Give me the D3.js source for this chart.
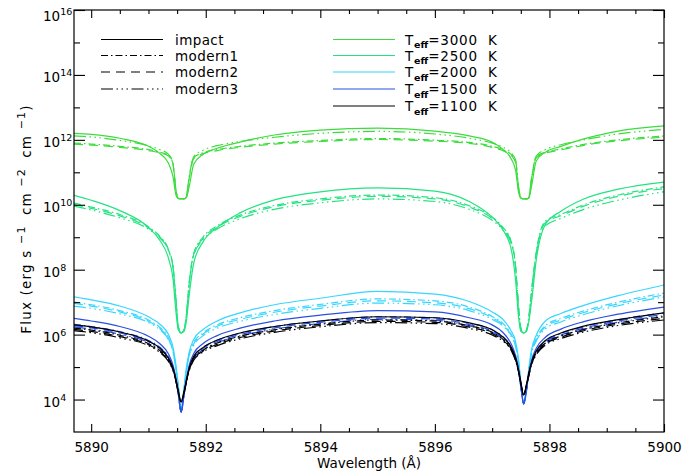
<!DOCTYPE html>
<html><head><meta charset="utf-8">
<script src="https://cdn.jsdelivr.net/npm/d3@7"></script>
<style>body{margin:0;background:#fff} text{font-family:"DejaVu Sans",sans-serif;fill:#000}</style>
</head><body><svg id="c" width="682" height="473"></svg>
<script>
// wavelength grid (Å)
const wavelength = [5889.70,5890.00,5890.50,5891.00,5891.20,5891.35,5891.43,5891.48,5891.52,5891.57,5891.62,5891.66,5891.71,5891.79,5891.95,5892.20,5892.60,5893.20,5894.00,5895.00,5896.00,5896.60,5897.00,5897.18,5897.33,5897.41,5897.46,5897.50,5897.55,5897.60,5897.64,5897.69,5897.77,5897.93,5898.20,5898.60,5899.20,5900.00];

// log10 flux values
const t3000_impact  = [12.20,12.17,12.05,11.80,11.58,11.28,10.85,10.30,10.19,10.18,10.18,10.22,10.55,11.25,11.55,11.74,11.93,12.15,12.30,12.36,12.27,12.12,11.93,11.72,11.42,11.05,10.40,10.20,10.18,10.18,10.20,10.60,11.35,11.62,11.80,12.03,12.27,12.43];
const t3000_modern1 = [11.90,11.87,11.80,11.70,11.62,11.52,11.25,10.45,10.20,10.18,10.18,10.24,10.85,11.45,11.60,11.70,11.80,11.90,11.98,12.04,11.99,11.92,11.80,11.70,11.55,11.35,10.55,10.22,10.18,10.18,10.22,10.85,11.48,11.62,11.72,11.86,12.00,12.12];
const t3000_modern2 = [11.87,11.84,11.77,11.67,11.60,11.50,11.22,10.42,10.20,10.18,10.18,10.24,10.80,11.42,11.57,11.67,11.77,11.87,11.95,12.01,11.96,11.89,11.77,11.67,11.52,11.30,10.50,10.22,10.18,10.18,10.22,10.80,11.45,11.59,11.69,11.83,11.97,12.08];
const t3000_modern3 = [12.12,12.09,11.98,11.82,11.70,11.55,11.28,10.45,10.20,10.18,10.18,10.24,10.85,11.48,11.68,11.82,11.95,12.08,12.20,12.26,12.18,12.05,11.90,11.78,11.60,11.38,10.55,10.22,10.18,10.18,10.22,10.85,11.50,11.70,11.85,12.00,12.18,12.32];

const t2500_impact  = [10.29,10.14,9.82,9.30,8.90,8.35,7.70,6.70,6.15,6.05,6.10,6.40,7.20,8.20,8.85,9.30,9.75,10.15,10.40,10.52,10.42,10.10,9.62,9.25,8.65,7.65,6.55,6.10,6.05,6.10,6.40,7.05,8.30,9.40,9.80,10.18,10.48,10.70];
const t2500_modern1 = [10.05,9.93,9.70,9.32,9.02,8.62,8.10,7.10,6.25,6.05,6.15,6.60,7.60,8.50,9.00,9.35,9.68,9.98,10.18,10.30,10.22,9.97,9.62,9.32,8.88,8.10,6.90,6.20,6.05,6.15,6.55,7.40,8.55,9.50,9.70,10.00,10.30,10.55];
const t2500_modern2 = [10.01,9.89,9.66,9.29,9.00,8.60,8.05,7.05,6.25,6.05,6.15,6.55,7.55,8.47,8.96,9.31,9.64,9.94,10.14,10.26,10.18,9.93,9.58,9.29,8.85,8.05,6.85,6.20,6.05,6.15,6.50,7.35,8.50,9.45,9.66,9.96,10.26,10.50];
const t2500_modern3 = [9.96,9.84,9.60,9.25,8.97,8.58,8.05,7.05,6.25,6.05,6.15,6.55,7.55,8.45,8.92,9.25,9.57,9.86,10.06,10.18,10.10,9.86,9.52,9.24,8.82,8.05,6.85,6.20,6.05,6.15,6.50,7.35,8.48,9.35,9.58,9.86,10.14,10.40];

const t2000_impact  = [7.16,7.07,6.88,6.55,6.32,6.00,5.60,5.05,4.45,3.70,4.35,4.95,5.45,5.85,6.15,6.42,6.67,6.92,7.12,7.33,7.25,7.02,6.70,6.48,6.12,5.78,5.25,4.55,3.90,4.30,4.95,5.55,5.98,6.42,6.65,6.90,7.20,7.53];
const t2000_modern1 = [7.00,6.92,6.74,6.45,6.22,5.90,5.50,4.98,4.40,3.70,4.30,4.90,5.38,5.75,6.05,6.30,6.52,6.74,6.93,7.10,7.04,6.85,6.56,6.36,6.02,5.70,5.18,4.50,3.90,4.25,4.90,5.48,5.88,6.28,6.50,6.73,7.00,7.28];
const t2000_modern2 = [6.96,6.88,6.70,6.41,6.18,5.86,5.47,4.95,4.40,3.70,4.30,4.88,5.35,5.71,6.01,6.26,6.47,6.69,6.88,7.04,6.98,6.80,6.52,6.32,5.98,5.66,5.15,4.50,3.90,4.25,4.88,5.45,5.84,6.24,6.45,6.68,6.95,7.22];
const t2000_modern3 = [6.88,6.81,6.64,6.37,6.15,5.84,5.45,4.93,4.40,3.70,4.30,4.86,5.32,5.67,5.96,6.20,6.41,6.62,6.81,6.97,6.92,6.74,6.47,6.28,5.95,5.63,5.12,4.50,3.90,4.25,4.86,5.42,5.80,6.18,6.39,6.62,6.89,7.16];

const t1500_impact  = [6.50,6.42,6.25,5.95,5.72,5.40,5.05,4.65,4.20,3.60,4.15,4.60,5.05,5.42,5.72,5.97,6.20,6.42,6.60,6.74,6.70,6.52,6.30,6.08,5.72,5.35,4.95,4.45,3.85,4.35,4.80,5.22,5.58,5.92,6.17,6.40,6.63,6.85];
const t1500_modern1 = [6.32,6.25,6.09,5.82,5.61,5.31,4.98,4.60,4.18,3.62,4.13,4.56,4.98,5.33,5.60,5.83,6.04,6.25,6.42,6.55,6.52,6.35,6.15,5.95,5.62,5.28,4.90,4.42,3.87,4.33,4.75,5.15,5.48,5.80,6.03,6.24,6.46,6.67];
const t1500_modern2 = [6.28,6.21,6.05,5.79,5.58,5.29,4.96,4.58,4.17,3.62,4.12,4.55,4.96,5.30,5.57,5.79,6.00,6.21,6.38,6.51,6.48,6.31,6.11,5.92,5.60,5.26,4.88,4.41,3.87,4.32,4.73,5.13,5.45,5.77,5.99,6.20,6.42,6.62];
const t1500_modern3 = [6.24,6.17,6.01,5.76,5.55,5.27,4.94,4.57,4.16,3.62,4.11,4.54,4.94,5.27,5.53,5.75,5.96,6.17,6.34,6.47,6.44,6.27,6.07,5.89,5.58,5.24,4.86,4.40,3.87,4.31,4.72,5.11,5.42,5.73,5.95,6.16,6.38,6.58];

const t1100_impact  = [6.30,6.24,6.08,5.80,5.58,5.27,4.97,4.62,4.28,3.93,4.25,4.58,4.97,5.33,5.60,5.83,6.05,6.25,6.42,6.55,6.52,6.36,6.15,5.94,5.62,5.28,4.92,4.55,4.14,4.48,4.82,5.17,5.50,5.82,6.05,6.26,6.46,6.67];
const t1100_modern1 = [6.20,6.14,5.98,5.72,5.51,5.21,4.92,4.58,4.25,3.93,4.22,4.54,4.92,5.27,5.52,5.74,5.95,6.15,6.32,6.45,6.42,6.27,6.07,5.87,5.56,5.23,4.88,4.52,4.14,4.45,4.78,5.12,5.44,5.74,5.96,6.16,6.36,6.55];
const t1100_modern2 = [6.16,6.10,5.94,5.69,5.48,5.19,4.90,4.57,4.24,3.93,4.21,4.53,4.90,5.24,5.49,5.70,5.91,6.11,6.28,6.41,6.38,6.23,6.03,5.84,5.54,5.21,4.86,4.51,4.14,4.44,4.76,5.10,5.41,5.71,5.92,6.12,6.32,6.50];
const t1100_modern3 = [6.12,6.06,5.90,5.66,5.45,5.17,4.88,4.56,4.23,3.93,4.20,4.52,4.88,5.21,5.46,5.66,5.87,6.07,6.24,6.37,6.34,6.19,5.99,5.81,5.52,5.19,4.84,4.50,4.14,4.43,4.74,5.08,5.38,5.68,5.88,6.08,6.28,6.45];

const temperatures = ["3000","2500","2000","1500","1100"];
const tempColors = ["#3ddc3d","#22e37f","#36d6ff","#2b4fe0","#000000"];
const models = ["impact","modern1","modern2","modern3"];
const modelDash = [null,"7,3,1.5,3","9,6","12,3.5,1.5,3.5,1.5,3.5,1.5,3.5"];
const xMajorTicks = [5890,5892,5894,5896,5898,5900];
const xMinorTicks = [5890.5,5891,5891.5,5892.5,5893,5893.5,5894.5,5895,5895.5,5896.5,5897,5897.5,5898.5,5899,5899.5];
const yMajorExp = [4,6,8,10,12,14,16];
const yMinorExp = [5,7,9,11,13,15];

const seriesData = {
  "3000":[t3000_impact,t3000_modern1,t3000_modern2,t3000_modern3],
  "2500":[t2500_impact,t2500_modern1,t2500_modern2,t2500_modern3],
  "2000":[t2000_impact,t2000_modern1,t2000_modern2,t2000_modern3],
  "1500":[t1500_impact,t1500_modern1,t1500_modern2,t1500_modern3],
  "1100":[t1100_impact,t1100_modern1,t1100_modern2,t1100_modern3]
};

const L=74,R=664,T=10,B=432;
const svg=d3.select("#c");
const x=d3.scaleLinear().domain([5889.7,5900]).range([L,R]);
const y=d3.scaleLog().domain([1e3,1e16]).range([B,T]);

const clip=svg.append("defs").append("clipPath").attr("id","pc");
clip.append("rect").attr("x",L).attr("y",T).attr("width",R-L).attr("height",B-T);

const line=d3.line().x((d,i)=>x(wavelength[i])).y(d=>y(Math.pow(10,d))).curve(d3.curveMonotoneX);
const plot=svg.append("g").attr("clip-path","url(#pc)");
temperatures.forEach((t,ti)=>{
  seriesData[t].forEach((arr,mi)=>{
    plot.append("path").attr("d",line(arr)).attr("fill","none")
      .attr("stroke",tempColors[ti]).attr("stroke-width",1.2)
      .attr("stroke-dasharray",modelDash[mi]);
  });
});

// axes
function ax(gen,tr){const g=svg.append("g").attr("transform",tr).call(gen);g.select(".domain").remove();g.selectAll("line").attr("stroke","#000").attr("stroke-width",1.1);return g;}
const fmtNone=()=>"";
const xb=ax(d3.axisBottom(x).tickValues(xMajorTicks).tickSize(-8).tickSizeOuter(0).tickPadding(10).tickFormat(d3.format("d")),`translate(0,${B})`);
xb.selectAll("text").attr("font-size","13.5px").attr("font-family","DejaVu Sans");
ax(d3.axisBottom(x).tickValues(xMinorTicks).tickSize(-4).tickSizeOuter(0).tickFormat(fmtNone),`translate(0,${B})`);
ax(d3.axisTop(x).tickValues(xMajorTicks).tickSize(-8).tickSizeOuter(0).tickFormat(fmtNone),`translate(0,${T})`);
ax(d3.axisTop(x).tickValues(xMinorTicks).tickSize(-4).tickSizeOuter(0).tickFormat(fmtNone),`translate(0,${T})`);
const yMaj=yMajorExp.map(e=>Math.pow(10,e)), yMin=yMinorExp.map(e=>Math.pow(10,e));
ax(d3.axisLeft(y).tickValues(yMaj).tickSize(-11).tickSizeOuter(0).tickFormat(fmtNone),`translate(${L},0)`);
ax(d3.axisLeft(y).tickValues(yMin).tickSize(-6).tickSizeOuter(0).tickFormat(fmtNone),`translate(${L},0)`);
ax(d3.axisRight(y).tickValues(yMaj).tickSize(-11).tickSizeOuter(0).tickFormat(fmtNone),`translate(${R},0)`);
ax(d3.axisRight(y).tickValues(yMin).tickSize(-6).tickSizeOuter(0).tickFormat(fmtNone),`translate(${R},0)`);
svg.append("rect").attr("x",L).attr("y",T).attr("width",R-L).attr("height",B-T).attr("fill","none").attr("stroke","#000").attr("stroke-width",1.2);

// y tick labels
yMajorExp.forEach(e=>{
  const yy=y(Math.pow(10,e));
  const tx=svg.append("text").attr("x",43).attr("y",Math.min(yy+7,B)+ (e===16?4:0)).attr("font-size","13.5px");
  tx.append("tspan").text("10");
  tx.append("tspan").attr("dy",-6).attr("font-size","9.5px").text(e);
});

// axis titles
svg.append("text").attr("x",(L+R)/2).attr("y",468).attr("text-anchor","middle").attr("font-size","13.5px").text("Wavelength (Å)");
const yt=svg.append("text").attr("transform","translate(31,219) rotate(-90)").attr("text-anchor","middle").attr("font-size","13.5px").attr("letter-spacing","1.2px");
yt.append("tspan").text("Flux (erg s\u00a0");
yt.append("tspan").attr("dy",-6).attr("font-size","11px").text("−1\u00a0");
yt.append("tspan").attr("dy",6).text(" cm\u00a0");
yt.append("tspan").attr("dy",-6).attr("font-size","11px").text("−2\u00a0");
yt.append("tspan").attr("dy",6).text(" cm\u00a0");
yt.append("tspan").attr("dy",-6).attr("font-size","11px").text("−1");
yt.append("tspan").attr("dy",6).text(")");

// legends
const legY=[39.5,55.5,72,89,106];
models.forEach((m,i)=>{
  svg.append("line").attr("x1",101).attr("x2",163).attr("y1",legY[i]).attr("y2",legY[i]).attr("stroke","#000").attr("stroke-width",1.2).attr("stroke-dasharray",modelDash[i]);
  svg.append("text").attr("x",175).attr("y",legY[i]+5).attr("font-size","13.5px").attr("letter-spacing","0.4px").text(m);
});
temperatures.forEach((t,i)=>{
  svg.append("line").attr("x1",333).attr("x2",395).attr("y1",legY[i]).attr("y2",legY[i]).attr("stroke",tempColors[i]).attr("stroke-width",1.2);
  const tx=svg.append("text").attr("x",405).attr("y",legY[i]+5).attr("font-size","13.5px").attr("letter-spacing","0.8px");
  tx.append("tspan").text("T");
  tx.append("tspan").attr("dy",3.5).attr("font-size","9.5px").attr("font-weight","bold").attr("letter-spacing","0px").text("eff");
  tx.append("tspan").attr("dy",-3.5).text("="+t+"\u00a0\u00a0K");
});
</script></body></html>
